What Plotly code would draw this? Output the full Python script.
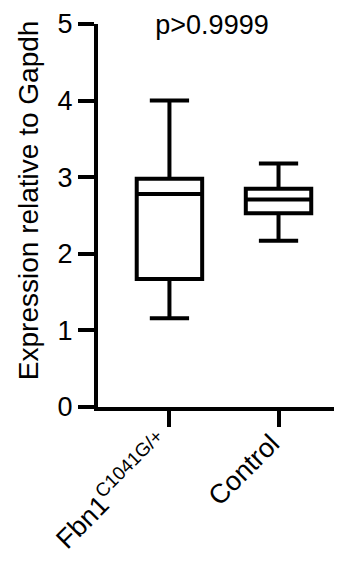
import plotly.graph_objects as go

categories = ["Fbn1<sup>C1041G/+</sup>", "Control"]
lower = [1.16, 2.17]
q1 = [1.67, 2.53]
median = [2.78, 2.71]
q3 = [2.98, 2.85]
upper = [4.0, 3.18]
y_ticks = [0, 1, 2, 3, 4, 5]

FONT = "Arial, Liberation Sans, sans-serif"

fig = go.Figure()
for i, c in enumerate(categories):
    fig.add_trace(go.Box(
        x=[c], q1=[q1[i]], median=[median[i]], q3=[q3[i]],
        lowerfence=[lower[i]], upperfence=[upper[i]],
        line=dict(color="black", width=4), fillcolor="white",
        width=0.6, whiskerwidth=0.6, boxpoints=False, showlegend=False,
    ))

W, H = 334, 556
fig.update_layout(
    width=W, height=H,
    margin=dict(l=90, r=0, t=16, b=157),
    plot_bgcolor="white", paper_bgcolor="white",
    font=dict(family=FONT, color="black"),
    title=dict(text="p&gt;0.9999", x=204 / W, xanchor="center", xref="container",
               y=1 - 17 / H, yanchor="middle", yref="container",
               font=dict(size=27, color="black")),
    xaxis=dict(
        type="category", categoryorder="array", categoryarray=categories,
        range=[-0.655, 1.582], showline=True, linecolor="black", linewidth=4,
        ticks="outside", ticklen=16, tickwidth=4, tickcolor="black",
        tickangle=-45, tickfont=dict(size=27, family=FONT),
        ticklabelstandoff=-10, ticklabelshift=-7,
        showgrid=False, zeroline=False, automargin=False,
    ),
    yaxis=dict(
        range=[0, 5], tickvals=y_ticks, showline=True, linecolor="black", linewidth=4,
        ticks="outside", ticklen=16, tickwidth=4, tickcolor="black",
        tickfont=dict(size=27, family=FONT), showgrid=False, zeroline=False,
        automargin=False,
    ),
    annotations=[dict(
        text="Expression relative to Gapdh", textangle=-90,
        xref="paper", yref="paper", x=-0.287, y=0.54,
        xanchor="center", yanchor="middle", showarrow=False,
        font=dict(size=28, family=FONT, color="black"),
    )],
)

fig.write_html("out.html")
